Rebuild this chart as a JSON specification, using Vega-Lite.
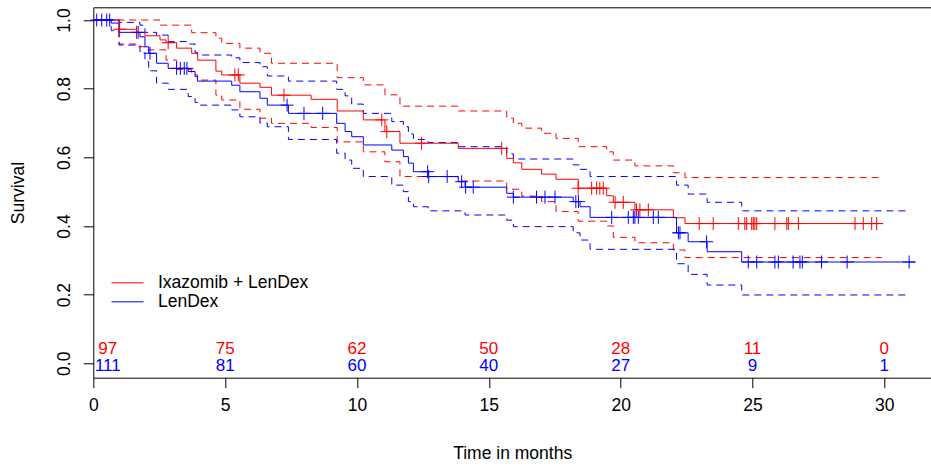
{
  "$schema": "https://vega.github.io/schema/vega-lite/v6.json",
  "width": 837.7,
  "height": 370.4,
  "autosize": {"type": "none"},
  "padding": {"left": 93.3, "top": 7.3, "right": 0, "bottom": 90.3},
  "background": "white",
  "config": {
    "view": {"stroke": null},
    "font": "Liberation Sans, Arial, sans-serif"
  },
  "datasets": {
    "km": [
      {"arm": "Ixazomib + LenDex", "curve": "est", "t": 0, "s": 1.0},
      {"arm": "Ixazomib + LenDex", "curve": "est", "t": 0.99, "s": 0.973},
      {"arm": "Ixazomib + LenDex", "curve": "est", "t": 1.64, "s": 0.964},
      {"arm": "Ixazomib + LenDex", "curve": "est", "t": 1.96, "s": 0.954},
      {"arm": "Ixazomib + LenDex", "curve": "est", "t": 2.53, "s": 0.942},
      {"arm": "Ixazomib + LenDex", "curve": "est", "t": 2.76, "s": 0.934},
      {"arm": "Ixazomib + LenDex", "curve": "est", "t": 3.16, "s": 0.918},
      {"arm": "Ixazomib + LenDex", "curve": "est", "t": 3.73, "s": 0.903},
      {"arm": "Ixazomib + LenDex", "curve": "est", "t": 3.96, "s": 0.883},
      {"arm": "Ixazomib + LenDex", "curve": "est", "t": 4.65, "s": 0.851},
      {"arm": "Ixazomib + LenDex", "curve": "est", "t": 4.87, "s": 0.840},
      {"arm": "Ixazomib + LenDex", "curve": "est", "t": 5.56, "s": 0.816},
      {"arm": "Ixazomib + LenDex", "curve": "est", "t": 6.32, "s": 0.804},
      {"arm": "Ixazomib + LenDex", "curve": "est", "t": 6.76, "s": 0.781},
      {"arm": "Ixazomib + LenDex", "curve": "est", "t": 8.26, "s": 0.769},
      {"arm": "Ixazomib + LenDex", "curve": "est", "t": 9.25, "s": 0.735},
      {"arm": "Ixazomib + LenDex", "curve": "est", "t": 10.24, "s": 0.709},
      {"arm": "Ixazomib + LenDex", "curve": "est", "t": 11.06, "s": 0.675},
      {"arm": "Ixazomib + LenDex", "curve": "est", "t": 11.63, "s": 0.641},
      {"arm": "Ixazomib + LenDex", "curve": "est", "t": 13.84, "s": 0.626},
      {"arm": "Ixazomib + LenDex", "curve": "est", "t": 15.68, "s": 0.597},
      {"arm": "Ixazomib + LenDex", "curve": "est", "t": 15.93, "s": 0.584},
      {"arm": "Ixazomib + LenDex", "curve": "est", "t": 16.25, "s": 0.565},
      {"arm": "Ixazomib + LenDex", "curve": "est", "t": 17.0, "s": 0.551},
      {"arm": "Ixazomib + LenDex", "curve": "est", "t": 17.55, "s": 0.536},
      {"arm": "Ixazomib + LenDex", "curve": "est", "t": 18.39, "s": 0.510},
      {"arm": "Ixazomib + LenDex", "curve": "est", "t": 19.47, "s": 0.488},
      {"arm": "Ixazomib + LenDex", "curve": "est", "t": 19.72, "s": 0.469},
      {"arm": "Ixazomib + LenDex", "curve": "est", "t": 20.54, "s": 0.447},
      {"arm": "Ixazomib + LenDex", "curve": "est", "t": 22.0, "s": 0.424},
      {"arm": "Ixazomib + LenDex", "curve": "est", "t": 22.44, "s": 0.407},
      {"arm": "Ixazomib + LenDex", "curve": "est", "t": 29.94, "s": 0.407},

      {"arm": "Ixazomib + LenDex", "curve": "upper", "t": 0, "s": 1.0},
      {"arm": "Ixazomib + LenDex", "curve": "upper", "t": 2.53, "s": 0.985},
      {"arm": "Ixazomib + LenDex", "curve": "upper", "t": 3.73, "s": 0.963},
      {"arm": "Ixazomib + LenDex", "curve": "upper", "t": 4.65, "s": 0.947},
      {"arm": "Ixazomib + LenDex", "curve": "upper", "t": 4.87, "s": 0.932},
      {"arm": "Ixazomib + LenDex", "curve": "upper", "t": 5.56, "s": 0.918},
      {"arm": "Ixazomib + LenDex", "curve": "upper", "t": 6.32, "s": 0.903},
      {"arm": "Ixazomib + LenDex", "curve": "upper", "t": 6.76, "s": 0.874},
      {"arm": "Ixazomib + LenDex", "curve": "upper", "t": 9.25, "s": 0.832},
      {"arm": "Ixazomib + LenDex", "curve": "upper", "t": 10.24, "s": 0.811},
      {"arm": "Ixazomib + LenDex", "curve": "upper", "t": 11.06, "s": 0.782},
      {"arm": "Ixazomib + LenDex", "curve": "upper", "t": 11.63, "s": 0.749},
      {"arm": "Ixazomib + LenDex", "curve": "upper", "t": 13.84, "s": 0.735},
      {"arm": "Ixazomib + LenDex", "curve": "upper", "t": 15.68, "s": 0.714},
      {"arm": "Ixazomib + LenDex", "curve": "upper", "t": 15.93, "s": 0.699},
      {"arm": "Ixazomib + LenDex", "curve": "upper", "t": 16.25, "s": 0.685},
      {"arm": "Ixazomib + LenDex", "curve": "upper", "t": 17.0, "s": 0.670},
      {"arm": "Ixazomib + LenDex", "curve": "upper", "t": 17.55, "s": 0.655},
      {"arm": "Ixazomib + LenDex", "curve": "upper", "t": 18.39, "s": 0.631},
      {"arm": "Ixazomib + LenDex", "curve": "upper", "t": 19.47, "s": 0.616},
      {"arm": "Ixazomib + LenDex", "curve": "upper", "t": 19.72, "s": 0.592},
      {"arm": "Ixazomib + LenDex", "curve": "upper", "t": 20.54, "s": 0.575},
      {"arm": "Ixazomib + LenDex", "curve": "upper", "t": 22.0, "s": 0.555},
      {"arm": "Ixazomib + LenDex", "curve": "upper", "t": 22.44, "s": 0.541},
      {"arm": "Ixazomib + LenDex", "curve": "upper", "t": 29.9, "s": 0.541},

      {"arm": "Ixazomib + LenDex", "curve": "lower", "t": 0, "s": 1.0},
      {"arm": "Ixazomib + LenDex", "curve": "lower", "t": 0.99, "s": 0.93},
      {"arm": "Ixazomib + LenDex", "curve": "lower", "t": 1.64, "s": 0.922},
      {"arm": "Ixazomib + LenDex", "curve": "lower", "t": 1.96, "s": 0.913},
      {"arm": "Ixazomib + LenDex", "curve": "lower", "t": 2.76, "s": 0.883},
      {"arm": "Ixazomib + LenDex", "curve": "lower", "t": 3.16, "s": 0.856},
      {"arm": "Ixazomib + LenDex", "curve": "lower", "t": 3.73, "s": 0.840},
      {"arm": "Ixazomib + LenDex", "curve": "lower", "t": 3.96, "s": 0.825},
      {"arm": "Ixazomib + LenDex", "curve": "lower", "t": 4.65, "s": 0.781},
      {"arm": "Ixazomib + LenDex", "curve": "lower", "t": 4.87, "s": 0.767},
      {"arm": "Ixazomib + LenDex", "curve": "lower", "t": 5.56, "s": 0.740},
      {"arm": "Ixazomib + LenDex", "curve": "lower", "t": 6.32, "s": 0.714},
      {"arm": "Ixazomib + LenDex", "curve": "lower", "t": 6.76, "s": 0.699},
      {"arm": "Ixazomib + LenDex", "curve": "lower", "t": 8.26, "s": 0.687},
      {"arm": "Ixazomib + LenDex", "curve": "lower", "t": 9.25, "s": 0.645},
      {"arm": "Ixazomib + LenDex", "curve": "lower", "t": 10.24, "s": 0.616},
      {"arm": "Ixazomib + LenDex", "curve": "lower", "t": 11.06, "s": 0.587},
      {"arm": "Ixazomib + LenDex", "curve": "lower", "t": 11.63, "s": 0.544},
      {"arm": "Ixazomib + LenDex", "curve": "lower", "t": 13.84, "s": 0.531},
      {"arm": "Ixazomib + LenDex", "curve": "lower", "t": 15.68, "s": 0.507},
      {"arm": "Ixazomib + LenDex", "curve": "lower", "t": 16.25, "s": 0.487},
      {"arm": "Ixazomib + LenDex", "curve": "lower", "t": 17.0, "s": 0.471},
      {"arm": "Ixazomib + LenDex", "curve": "lower", "t": 17.55, "s": 0.442},
      {"arm": "Ixazomib + LenDex", "curve": "lower", "t": 18.39, "s": 0.414},
      {"arm": "Ixazomib + LenDex", "curve": "lower", "t": 19.47, "s": 0.400},
      {"arm": "Ixazomib + LenDex", "curve": "lower", "t": 19.72, "s": 0.367},
      {"arm": "Ixazomib + LenDex", "curve": "lower", "t": 20.54, "s": 0.351},
      {"arm": "Ixazomib + LenDex", "curve": "lower", "t": 22.0, "s": 0.330},
      {"arm": "Ixazomib + LenDex", "curve": "lower", "t": 22.44, "s": 0.308},
      {"arm": "Ixazomib + LenDex", "curve": "lower", "t": 29.9, "s": 0.308},

      {"arm": "LenDex", "curve": "est", "t": 0, "s": 1.0},
      {"arm": "LenDex", "curve": "est", "t": 0.68, "s": 0.991},
      {"arm": "LenDex", "curve": "est", "t": 0.97, "s": 0.964},
      {"arm": "LenDex", "curve": "est", "t": 1.77, "s": 0.951},
      {"arm": "LenDex", "curve": "est", "t": 1.96, "s": 0.922},
      {"arm": "LenDex", "curve": "est", "t": 2.1, "s": 0.903},
      {"arm": "LenDex", "curve": "est", "t": 2.4, "s": 0.874},
      {"arm": "LenDex", "curve": "est", "t": 2.84, "s": 0.859},
      {"arm": "LenDex", "curve": "est", "t": 3.6, "s": 0.850},
      {"arm": "LenDex", "curve": "est", "t": 3.86, "s": 0.835},
      {"arm": "LenDex", "curve": "est", "t": 3.95, "s": 0.822},
      {"arm": "LenDex", "curve": "est", "t": 5.25, "s": 0.810},
      {"arm": "LenDex", "curve": "est", "t": 5.56, "s": 0.791},
      {"arm": "LenDex", "curve": "est", "t": 6.32, "s": 0.772},
      {"arm": "LenDex", "curve": "est", "t": 6.6, "s": 0.752},
      {"arm": "LenDex", "curve": "est", "t": 7.4, "s": 0.728},
      {"arm": "LenDex", "curve": "est", "t": 9.23, "s": 0.699},
      {"arm": "LenDex", "curve": "est", "t": 9.55, "s": 0.675},
      {"arm": "LenDex", "curve": "est", "t": 9.8, "s": 0.660},
      {"arm": "LenDex", "curve": "est", "t": 10.24, "s": 0.636},
      {"arm": "LenDex", "curve": "est", "t": 11.32, "s": 0.621},
      {"arm": "LenDex", "curve": "est", "t": 11.76, "s": 0.602},
      {"arm": "LenDex", "curve": "est", "t": 11.95, "s": 0.583},
      {"arm": "LenDex", "curve": "est", "t": 12.14, "s": 0.558},
      {"arm": "LenDex", "curve": "est", "t": 12.7, "s": 0.544},
      {"arm": "LenDex", "curve": "est", "t": 13.84, "s": 0.529},
      {"arm": "LenDex", "curve": "est", "t": 14.1, "s": 0.513},
      {"arm": "LenDex", "curve": "est", "t": 15.68, "s": 0.495},
      {"arm": "LenDex", "curve": "est", "t": 15.93, "s": 0.484},
      {"arm": "LenDex", "curve": "est", "t": 18.2, "s": 0.471},
      {"arm": "LenDex", "curve": "est", "t": 18.46, "s": 0.456},
      {"arm": "LenDex", "curve": "est", "t": 18.84, "s": 0.425},
      {"arm": "LenDex", "curve": "est", "t": 22.12, "s": 0.380},
      {"arm": "LenDex", "curve": "est", "t": 22.56, "s": 0.354},
      {"arm": "LenDex", "curve": "est", "t": 23.28, "s": 0.325},
      {"arm": "LenDex", "curve": "est", "t": 24.59, "s": 0.295},
      {"arm": "LenDex", "curve": "est", "t": 31.16, "s": 0.295},

      {"arm": "LenDex", "curve": "upper", "t": 0, "s": 1.0},
      {"arm": "LenDex", "curve": "upper", "t": 0.97, "s": 0.993},
      {"arm": "LenDex", "curve": "upper", "t": 1.77, "s": 0.985},
      {"arm": "LenDex", "curve": "upper", "t": 1.96, "s": 0.964},
      {"arm": "LenDex", "curve": "upper", "t": 2.4, "s": 0.956},
      {"arm": "LenDex", "curve": "upper", "t": 2.84, "s": 0.937},
      {"arm": "LenDex", "curve": "upper", "t": 3.6, "s": 0.930},
      {"arm": "LenDex", "curve": "upper", "t": 3.86, "s": 0.905},
      {"arm": "LenDex", "curve": "upper", "t": 3.95, "s": 0.898},
      {"arm": "LenDex", "curve": "upper", "t": 5.25, "s": 0.890},
      {"arm": "LenDex", "curve": "upper", "t": 5.56, "s": 0.876},
      {"arm": "LenDex", "curve": "upper", "t": 6.32, "s": 0.864},
      {"arm": "LenDex", "curve": "upper", "t": 6.6, "s": 0.837},
      {"arm": "LenDex", "curve": "upper", "t": 7.4, "s": 0.822},
      {"arm": "LenDex", "curve": "upper", "t": 9.23, "s": 0.798},
      {"arm": "LenDex", "curve": "upper", "t": 9.55, "s": 0.779},
      {"arm": "LenDex", "curve": "upper", "t": 9.8, "s": 0.755},
      {"arm": "LenDex", "curve": "upper", "t": 10.24, "s": 0.728},
      {"arm": "LenDex", "curve": "upper", "t": 11.32, "s": 0.704},
      {"arm": "LenDex", "curve": "upper", "t": 11.76, "s": 0.689},
      {"arm": "LenDex", "curve": "upper", "t": 11.95, "s": 0.668},
      {"arm": "LenDex", "curve": "upper", "t": 12.14, "s": 0.652},
      {"arm": "LenDex", "curve": "upper", "t": 12.7, "s": 0.643},
      {"arm": "LenDex", "curve": "upper", "t": 13.84, "s": 0.631},
      {"arm": "LenDex", "curve": "upper", "t": 15.68, "s": 0.610},
      {"arm": "LenDex", "curve": "upper", "t": 15.93, "s": 0.595},
      {"arm": "LenDex", "curve": "upper", "t": 18.2, "s": 0.578},
      {"arm": "LenDex", "curve": "upper", "t": 18.46, "s": 0.565},
      {"arm": "LenDex", "curve": "upper", "t": 18.84, "s": 0.544},
      {"arm": "LenDex", "curve": "upper", "t": 22.12, "s": 0.519},
      {"arm": "LenDex", "curve": "upper", "t": 22.56, "s": 0.493},
      {"arm": "LenDex", "curve": "upper", "t": 23.28, "s": 0.469},
      {"arm": "LenDex", "curve": "upper", "t": 24.59, "s": 0.444},
      {"arm": "LenDex", "curve": "upper", "t": 30.97, "s": 0.444},

      {"arm": "LenDex", "curve": "lower", "t": 0, "s": 1.0},
      {"arm": "LenDex", "curve": "lower", "t": 0.68, "s": 0.969},
      {"arm": "LenDex", "curve": "lower", "t": 0.97, "s": 0.927},
      {"arm": "LenDex", "curve": "lower", "t": 1.77, "s": 0.908},
      {"arm": "LenDex", "curve": "lower", "t": 1.96, "s": 0.879},
      {"arm": "LenDex", "curve": "lower", "t": 2.1, "s": 0.852},
      {"arm": "LenDex", "curve": "lower", "t": 2.4, "s": 0.816},
      {"arm": "LenDex", "curve": "lower", "t": 2.84, "s": 0.798},
      {"arm": "LenDex", "curve": "lower", "t": 3.6, "s": 0.777},
      {"arm": "LenDex", "curve": "lower", "t": 3.86, "s": 0.760},
      {"arm": "LenDex", "curve": "lower", "t": 3.95, "s": 0.752},
      {"arm": "LenDex", "curve": "lower", "t": 5.25, "s": 0.738},
      {"arm": "LenDex", "curve": "lower", "t": 5.56, "s": 0.718},
      {"arm": "LenDex", "curve": "lower", "t": 6.32, "s": 0.700},
      {"arm": "LenDex", "curve": "lower", "t": 6.6, "s": 0.689},
      {"arm": "LenDex", "curve": "lower", "t": 7.4, "s": 0.652},
      {"arm": "LenDex", "curve": "lower", "t": 9.23, "s": 0.612},
      {"arm": "LenDex", "curve": "lower", "t": 9.55, "s": 0.592},
      {"arm": "LenDex", "curve": "lower", "t": 9.8, "s": 0.568},
      {"arm": "LenDex", "curve": "lower", "t": 10.24, "s": 0.544},
      {"arm": "LenDex", "curve": "lower", "t": 11.32, "s": 0.519},
      {"arm": "LenDex", "curve": "lower", "t": 11.76, "s": 0.500},
      {"arm": "LenDex", "curve": "lower", "t": 11.95, "s": 0.471},
      {"arm": "LenDex", "curve": "lower", "t": 12.14, "s": 0.456},
      {"arm": "LenDex", "curve": "lower", "t": 12.7, "s": 0.444},
      {"arm": "LenDex", "curve": "lower", "t": 14.1, "s": 0.432},
      {"arm": "LenDex", "curve": "lower", "t": 15.68, "s": 0.417},
      {"arm": "LenDex", "curve": "lower", "t": 15.93, "s": 0.398},
      {"arm": "LenDex", "curve": "lower", "t": 18.2, "s": 0.380},
      {"arm": "LenDex", "curve": "lower", "t": 18.46, "s": 0.359},
      {"arm": "LenDex", "curve": "lower", "t": 18.84, "s": 0.332},
      {"arm": "LenDex", "curve": "lower", "t": 22.12, "s": 0.290},
      {"arm": "LenDex", "curve": "lower", "t": 22.56, "s": 0.259},
      {"arm": "LenDex", "curve": "lower", "t": 23.28, "s": 0.228},
      {"arm": "LenDex", "curve": "lower", "t": 24.59, "s": 0.199},
      {"arm": "LenDex", "curve": "lower", "t": 30.85, "s": 0.199}
    ],
    "censor": [
      {"arm": "Ixazomib + LenDex", "t": 1.0, "s": 0.973},
      {"arm": "Ixazomib + LenDex", "t": 1.64, "s": 0.964},
      {"arm": "Ixazomib + LenDex", "t": 2.84, "s": 0.934},
      {"arm": "Ixazomib + LenDex", "t": 5.37, "s": 0.840},
      {"arm": "Ixazomib + LenDex", "t": 5.5, "s": 0.840},
      {"arm": "Ixazomib + LenDex", "t": 7.23, "s": 0.781},
      {"arm": "Ixazomib + LenDex", "t": 10.94, "s": 0.709},
      {"arm": "Ixazomib + LenDex", "t": 11.13, "s": 0.675},
      {"arm": "Ixazomib + LenDex", "t": 12.45, "s": 0.641},
      {"arm": "Ixazomib + LenDex", "t": 15.49, "s": 0.626},
      {"arm": "Ixazomib + LenDex", "t": 18.39, "s": 0.510},
      {"arm": "Ixazomib + LenDex", "t": 18.9, "s": 0.510},
      {"arm": "Ixazomib + LenDex", "t": 19.09, "s": 0.510},
      {"arm": "Ixazomib + LenDex", "t": 19.21, "s": 0.510},
      {"arm": "Ixazomib + LenDex", "t": 19.34, "s": 0.510},
      {"arm": "Ixazomib + LenDex", "t": 19.79, "s": 0.469},
      {"arm": "Ixazomib + LenDex", "t": 20.1, "s": 0.469},
      {"arm": "Ixazomib + LenDex", "t": 20.6, "s": 0.447},
      {"arm": "Ixazomib + LenDex", "t": 20.73, "s": 0.447},
      {"arm": "Ixazomib + LenDex", "t": 21.05, "s": 0.447},
      {"arm": "Ixazomib + LenDex", "t": 22.98, "s": 0.407},
      {"arm": "Ixazomib + LenDex", "t": 23.51, "s": 0.407},
      {"arm": "Ixazomib + LenDex", "t": 24.46, "s": 0.407},
      {"arm": "Ixazomib + LenDex", "t": 24.71, "s": 0.407},
      {"arm": "Ixazomib + LenDex", "t": 24.78, "s": 0.407},
      {"arm": "Ixazomib + LenDex", "t": 24.97, "s": 0.407},
      {"arm": "Ixazomib + LenDex", "t": 25.03, "s": 0.407},
      {"arm": "Ixazomib + LenDex", "t": 25.09, "s": 0.407},
      {"arm": "Ixazomib + LenDex", "t": 25.16, "s": 0.407},
      {"arm": "Ixazomib + LenDex", "t": 25.85, "s": 0.407},
      {"arm": "Ixazomib + LenDex", "t": 26.3, "s": 0.407},
      {"arm": "Ixazomib + LenDex", "t": 26.36, "s": 0.407},
      {"arm": "Ixazomib + LenDex", "t": 26.74, "s": 0.407},
      {"arm": "Ixazomib + LenDex", "t": 28.89, "s": 0.407},
      {"arm": "Ixazomib + LenDex", "t": 29.2, "s": 0.407},
      {"arm": "Ixazomib + LenDex", "t": 29.52, "s": 0.407},
      {"arm": "Ixazomib + LenDex", "t": 29.71, "s": 0.407},
      {"arm": "LenDex", "t": 0.13, "s": 1.0},
      {"arm": "LenDex", "t": 0.32, "s": 1.0},
      {"arm": "LenDex", "t": 0.51, "s": 1.0},
      {"arm": "LenDex", "t": 0.62, "s": 1.0},
      {"arm": "LenDex", "t": 1.7, "s": 0.964},
      {"arm": "LenDex", "t": 2.15, "s": 0.903},
      {"arm": "LenDex", "t": 3.16, "s": 0.859},
      {"arm": "LenDex", "t": 3.3, "s": 0.859},
      {"arm": "LenDex", "t": 3.45, "s": 0.859},
      {"arm": "LenDex", "t": 3.55, "s": 0.859},
      {"arm": "LenDex", "t": 7.35, "s": 0.752},
      {"arm": "LenDex", "t": 7.99, "s": 0.728},
      {"arm": "LenDex", "t": 8.7, "s": 0.728},
      {"arm": "LenDex", "t": 12.68, "s": 0.558},
      {"arm": "LenDex", "t": 12.72, "s": 0.544},
      {"arm": "LenDex", "t": 13.42, "s": 0.544},
      {"arm": "LenDex", "t": 13.97, "s": 0.529},
      {"arm": "LenDex", "t": 14.12, "s": 0.513},
      {"arm": "LenDex", "t": 14.41, "s": 0.513},
      {"arm": "LenDex", "t": 15.93, "s": 0.484},
      {"arm": "LenDex", "t": 16.81, "s": 0.484},
      {"arm": "LenDex", "t": 17.13, "s": 0.484},
      {"arm": "LenDex", "t": 17.51, "s": 0.484},
      {"arm": "LenDex", "t": 18.3, "s": 0.471},
      {"arm": "LenDex", "t": 18.4, "s": 0.471},
      {"arm": "LenDex", "t": 19.66, "s": 0.425},
      {"arm": "LenDex", "t": 20.29, "s": 0.425},
      {"arm": "LenDex", "t": 20.48, "s": 0.425},
      {"arm": "LenDex", "t": 20.54, "s": 0.425},
      {"arm": "LenDex", "t": 20.67, "s": 0.425},
      {"arm": "LenDex", "t": 21.24, "s": 0.425},
      {"arm": "LenDex", "t": 21.43, "s": 0.425},
      {"arm": "LenDex", "t": 22.19, "s": 0.380},
      {"arm": "LenDex", "t": 22.25, "s": 0.380},
      {"arm": "LenDex", "t": 23.26, "s": 0.354},
      {"arm": "LenDex", "t": 24.84, "s": 0.295},
      {"arm": "LenDex", "t": 25.16, "s": 0.295},
      {"arm": "LenDex", "t": 25.85, "s": 0.295},
      {"arm": "LenDex", "t": 25.98, "s": 0.295},
      {"arm": "LenDex", "t": 26.54, "s": 0.295},
      {"arm": "LenDex", "t": 26.8, "s": 0.295},
      {"arm": "LenDex", "t": 26.89, "s": 0.295},
      {"arm": "LenDex", "t": 27.62, "s": 0.295},
      {"arm": "LenDex", "t": 28.59, "s": 0.295},
      {"arm": "LenDex", "t": 30.94, "s": 0.295}
    ],
    "risk": [
      {"arm": "Ixazomib + LenDex", "t": 0.55, "n": "97"},
      {"arm": "Ixazomib + LenDex", "t": 5, "n": "75"},
      {"arm": "Ixazomib + LenDex", "t": 10, "n": "62"},
      {"arm": "Ixazomib + LenDex", "t": 15, "n": "50"},
      {"arm": "Ixazomib + LenDex", "t": 20, "n": "28"},
      {"arm": "Ixazomib + LenDex", "t": 25, "n": "11"},
      {"arm": "Ixazomib + LenDex", "t": 30, "n": "0"},
      {"arm": "LenDex", "t": 0.55, "n": "111"},
      {"arm": "LenDex", "t": 5, "n": "81"},
      {"arm": "LenDex", "t": 10, "n": "60"},
      {"arm": "LenDex", "t": 15, "n": "40"},
      {"arm": "LenDex", "t": 20, "n": "27"},
      {"arm": "LenDex", "t": 25, "n": "9"},
      {"arm": "LenDex", "t": 30, "n": "1"}
    ]
  },
  "resolve": {"axis": {"x": "independent"}, "legend": {"color": "independent"}},
  "layer": [
    {
      "data": {"name": "km"},
      "transform": [{"filter": "datum.curve !== 'est'"}],
      "mark": {"type": "line", "interpolate": "step-after", "strokeWidth": 1, "strokeDash": [7, 5], "clip": true},
      "encoding": {
        "x": {"field": "t", "type": "quantitative", "scale": {"domain": [0, 31.77], "nice": false, "zero": false},
          "axis": {"orient": "bottom", "values": [0, 5, 10, 15, 20, 25, 30], "format": "d", "domain": true, "domainColor": "black", "domainWidth": 1, "ticks": true, "tickColor": "black", "tickWidth": 1, "tickSize": 10, "labelFontSize": 17.5, "labelColor": "black", "labelPadding": 9, "labelFlush": false, "labelOverlap": false, "grid": false, "title": "Time in months", "titleFontSize": 17.5, "titleFontWeight": "normal", "titleColor": "black", "titlePadding": 30}},
        "y": {"field": "s", "type": "quantitative", "scale": {"domain": [-0.042, 1.037], "nice": false, "zero": false},
          "axis": {"values": [0, 0.2, 0.4, 0.6, 0.8, 1.0], "format": ".1f", "domain": true, "domainColor": "black", "domainWidth": 1, "ticks": true, "tickColor": "black", "tickWidth": 1, "tickSize": 10, "labelAngle": -90, "labelAlign": "center", "labelBaseline": "alphabetic", "labelPadding": 14, "labelFontSize": 17.5, "labelColor": "black", "labelFlush": false, "labelOverlap": false, "grid": false, "title": "Survival", "titleFontSize": 17.5, "titleFontWeight": "normal", "titleColor": "black", "titlePadding": 28}},
        "color": {"field": "arm", "type": "nominal", "scale": {"domain": ["Ixazomib + LenDex", "LenDex"], "range": ["#FF0000", "#0000FF"]}, "legend": null},
        "detail": {"field": "curve"}
      }
    },
    {
      "data": {"name": "km"},
      "transform": [{"filter": "datum.curve === 'est'"}],
      "mark": {"type": "line", "interpolate": "step-after", "strokeWidth": 1, "clip": true},
      "encoding": {
        "x": {"field": "t", "type": "quantitative", "scale": {"domain": [0, 31.77], "nice": false, "zero": false},
          "axis": {"orient": "top", "domain": true, "domainColor": "black", "domainWidth": 1, "ticks": false, "labels": false, "grid": false, "title": null}},
        "y": {"field": "s", "type": "quantitative", "scale": {"domain": [-0.042, 1.037], "nice": false, "zero": false}},
        "color": {"field": "arm", "type": "nominal", "scale": {"domain": ["Ixazomib + LenDex", "LenDex"], "range": ["#FF0000", "#0000FF"]},
          "legend": {"orient": "none", "legendX": 17.7, "legendY": 266, "title": null, "padding": 0, "symbolType": "stroke", "symbolSize": 1024, "symbolStrokeWidth": 1, "labelFontSize": 17.5, "labelColor": "black", "labelOffset": 14, "labelLimit": 0, "clipHeight": 19, "rowPadding": 0}}
      }
    },
    {
      "data": {"name": "censor"},
      "mark": {"type": "point", "shape": "M-1,0H1M0,-1V1", "filled": false, "size": 169, "strokeWidth": 1, "opacity": 1},
      "encoding": {
        "x": {"field": "t", "type": "quantitative", "scale": {"domain": [0, 31.77], "nice": false, "zero": false}, "axis": null},
        "y": {"field": "s", "type": "quantitative", "scale": {"domain": [-0.042, 1.037], "nice": false, "zero": false}},
        "color": {"field": "arm", "type": "nominal", "scale": {"domain": ["Ixazomib + LenDex", "LenDex"], "range": ["#FF0000", "#0000FF"]}, "legend": null}
      }
    },
    {
      "data": {"name": "risk"},
      "transform": [{"filter": "datum.arm === 'Ixazomib + LenDex'"}],
      "mark": {"type": "text", "fontSize": 17, "align": "center", "baseline": "middle", "color": "#FF0000"},
      "encoding": {
        "x": {"field": "t", "type": "quantitative", "scale": {"domain": [0, 31.77], "nice": false, "zero": false}, "axis": null},
        "y": {"datum": 0.043, "type": "quantitative", "scale": {"domain": [-0.042, 1.037], "nice": false, "zero": false}},
        "text": {"field": "n"}
      }
    },
    {
      "data": {"name": "risk"},
      "transform": [{"filter": "datum.arm === 'LenDex'"}],
      "mark": {"type": "text", "fontSize": 17, "align": "center", "baseline": "middle", "color": "#0000FF"},
      "encoding": {
        "x": {"field": "t", "type": "quantitative", "scale": {"domain": [0, 31.77], "nice": false, "zero": false}, "axis": null},
        "y": {"datum": -0.008, "type": "quantitative", "scale": {"domain": [-0.042, 1.037], "nice": false, "zero": false}},
        "text": {"field": "n"}
      }
    }
  ]
}
